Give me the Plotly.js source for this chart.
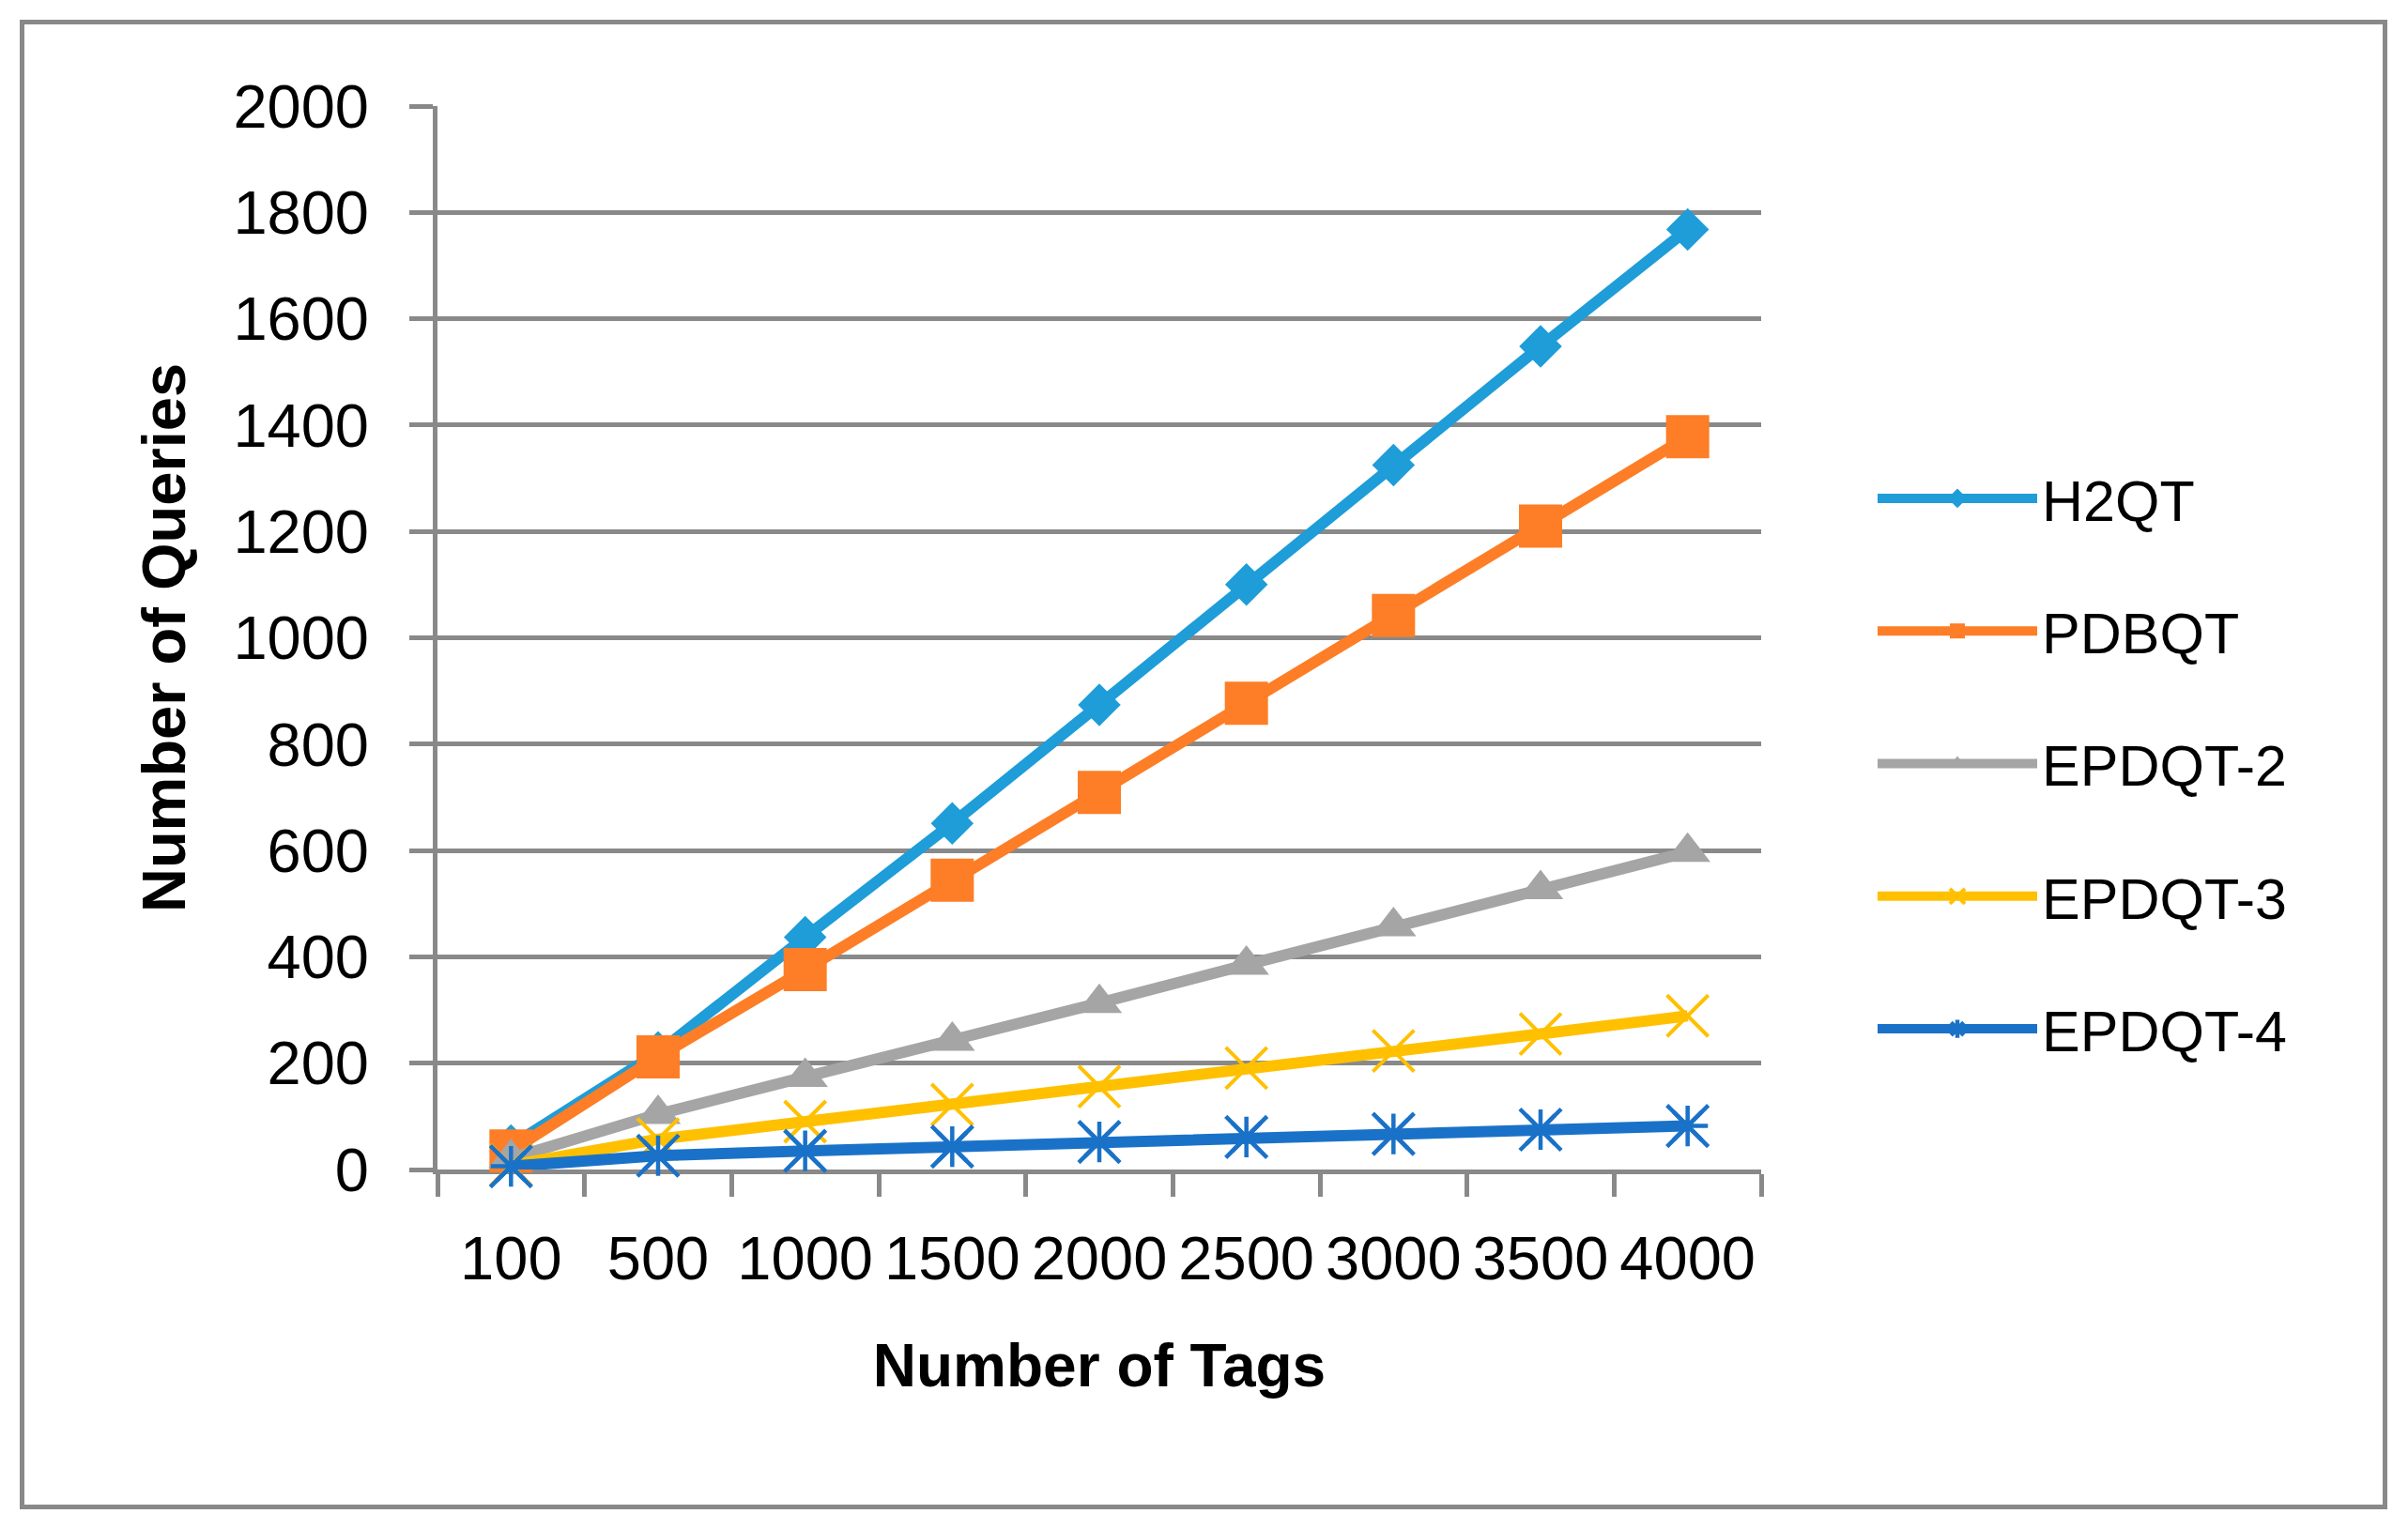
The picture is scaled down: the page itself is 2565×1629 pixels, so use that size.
<!DOCTYPE html>
<html>
<head>
<meta charset="utf-8">
<script src="https://cdn.plot.ly/plotly-3.0.1.min.js"></script>
<style>
  html, body { margin: 0; padding: 0; background: #ffffff; }
  #wrap { position: relative; width: 2565px; height: 1629px; }
  #chart { position: absolute; left: 0; top: 0; width: 2565px; height: 1629px; }
  #frame { position: absolute; left: 21px; top: 21px; width: 2512px; height: 1577px;
           border: 5px solid #898989; pointer-events: none; }
</style>
</head>
<body>
<div id="wrap">
  <div id="chart"></div>
  <div id="frame"></div>
</div>
<script>
// ---- data ----
const tags = ["100", "500", "1000", "1500", "2000", "2500", "3000", "3500", "4000"];
const h2qt   = [45, 220, 437, 651, 874, 1100, 1325, 1548, 1768];
const pdbqt  = [35, 212, 376, 544, 709, 877, 1042, 1210, 1378];
const epdqt2 = [21, 104, 174, 242, 313, 385, 457, 527, 597];
const epdqt3 = [8, 57, 90, 122, 156, 191, 223, 255, 289];
const epdqt4 = [6, 26, 35, 43, 52, 61, 67, 75, 82];
const seriesNames = ["H2QT", "PDBQT", "EPDQT-2", "EPDQT-3", "EPDQT-4"];
const yTicks = [0, 200, 400, 600, 800, 1000, 1200, 1400, 1600, 1800, 2000];

const colors = {
  h2qt: "#1E9DD8",
  pdbqt: "#FD7E26",
  e2: "#A5A5A5",
  e3: "#FFC000",
  e4: "#1A72C8"
};
const LW = 12;

const traces = [
  {
    x: tags, y: h2qt, name: seriesNames[0], type: "scatter", mode: "lines+markers",
    legendgroup: "g1", cliponaxis: false,
    line: { color: colors.h2qt, width: LW },
    marker: { symbol: "diamond", size: 35, color: colors.h2qt }
  },
  {
    x: tags, y: pdbqt, name: seriesNames[1], type: "scatter", mode: "lines+markers",
    legendgroup: "g2", cliponaxis: false,
    line: { color: colors.pdbqt, width: LW },
    marker: { symbol: "square", size: 46, color: colors.pdbqt }
  },
  {
    x: tags, y: epdqt2, name: seriesNames[2], type: "scatter", mode: "lines+markers",
    legendgroup: "g3", cliponaxis: false,
    line: { color: colors.e2, width: LW },
    marker: { symbol: "triangle-up", size: 42, color: colors.e2 }
  },
  {
    x: tags, y: epdqt3, name: seriesNames[3], type: "scatter", mode: "lines+markers",
    legendgroup: "g4", cliponaxis: false,
    line: { color: colors.e3, width: LW },
    marker: { symbol: "x-thin-open", size: 44, color: colors.e3,
              line: { color: colors.e3, width: 4 } }
  },
  {
    x: tags, y: epdqt4, name: seriesNames[4], type: "scatter", mode: "lines+markers",
    legendgroup: "g5", cliponaxis: false,
    line: { color: colors.e4, width: LW },
    marker: { symbol: "asterisk-open", size: 36, color: colors.e4,
              line: { color: colors.e4, width: 4.5 } }
  },
  {
    x: tags, y: epdqt4, name: seriesNames[4], type: "scatter", mode: "markers",
    legendgroup: "g5", showlegend: false, cliponaxis: false, hoverinfo: "skip",
    marker: { symbol: "x-thin-open", size: 44, color: colors.e4,
              line: { color: colors.e4, width: 4.5 } }
  }
];

const gridColor = "#898989";

const layout = {
  width: 2565,
  height: 1629,
  paper_bgcolor: "#ffffff",
  plot_bgcolor: "#ffffff",
  margin: { l: 466, r: 689, t: 113, b: 383, pad: 0 },
  showlegend: true,
  font: { family: "Liberation Sans, Arial, sans-serif", color: "#000000" },
  xaxis: {
    type: "category",
    categoryorder: "array",
    categoryarray: tags,
    range: [-0.5, 8.5],
    showgrid: false,
    zeroline: false,
    showline: true,
    linecolor: gridColor,
    linewidth: 5,
    ticks: "outside",
    tickson: "boundaries",
    ticklen: 24,
    tickwidth: 5,
    tickcolor: gridColor,
    tickangle: 0,
    ticklabelstandoff: 34,
    tickfont: { family: "Liberation Sans, Arial, sans-serif", size: 65, color: "#000000" },
    layer: "below traces",
    fixedrange: true,
    title: {
      text: "Number of Tags",
      font: { family: "Liberation Sans, Arial, sans-serif", size: 64, color: "#000000", weight: "bold" },
      standoff: 58
    },
    automargin: false
  },
  yaxis: {
    range: [0, 2000],
    tickvals: yTicks,
    ticktext: yTicks.map(String),
    showgrid: true,
    gridcolor: gridColor,
    gridwidth: 5,
    zeroline: false,
    showline: true,
    linecolor: gridColor,
    linewidth: 5,
    ticks: "outside",
    ticklen: 25,
    tickwidth: 5,
    tickcolor: gridColor,
    ticklabelstandoff: 30,
    tickfont: { family: "Liberation Sans, Arial, sans-serif", size: 65, color: "#000000" },
    layer: "below traces",
    fixedrange: true,
    title: {
      text: "Number of Queries",
      font: { family: "Liberation Sans, Arial, sans-serif", size: 65, color: "#000000", weight: "bold" },
      standoff: 31
    },
    automargin: false
  },
  legend: {
    x: 1.0844,
    xanchor: "left",
    y: 0.3815,
    yanchor: "middle",
    orientation: "v",
    bgcolor: "rgba(0,0,0,0)",
    borderwidth: 0,
    itemwidth: 170,
    tracegroupgap: 59,
    font: { family: "Liberation Sans, Arial, sans-serif", size: 61, color: "#000000" }
  }
};

Plotly.newPlot("chart", traces, layout, { staticPlot: true, displayModeBar: false });
</script>
</body>
</html>
